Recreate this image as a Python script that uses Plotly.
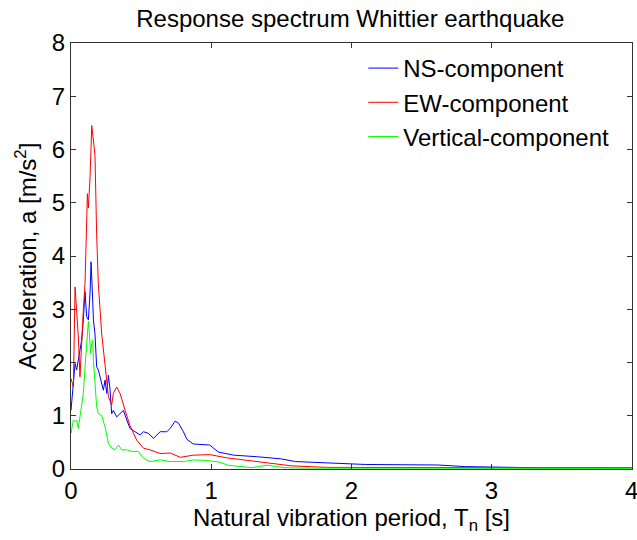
import plotly.graph_objects as go

# NS-component (blue)
ns_period = [0, 0.017, 0.029, 0.04, 0.052, 0.064, 0.076, 0.088, 0.1, 0.112, 0.124, 0.136,
             0.143, 0.152, 0.16, 0.171, 0.183, 0.195, 0.207, 0.231, 0.243, 0.255, 0.267,
             0.279, 0.29, 0.302, 0.326, 0.35, 0.374, 0.398, 0.421, 0.457, 0.493, 0.517,
             0.552, 0.588, 0.636, 0.683, 0.707, 0.743, 0.767, 0.802, 0.826, 0.872, 0.95,
             0.99, 1.05, 1.16, 1.33, 1.5, 1.6, 1.76, 2.1, 2.62, 2.81, 3.17, 3.36, 4.0]
ns_accel = [1.1, 1.73, 1.98, 1.86, 2.04, 2.17, 2.42, 2.8, 3.33, 2.86, 2.8, 3.3,
            3.89, 3.36, 2.8, 2.54, 1.92, 1.86, 1.73, 1.48, 1.67, 1.42, 1.76,
            1.48, 1.04, 1.1, 0.98, 1.04, 1.1, 0.92, 0.76, 0.7, 0.64, 0.7,
            0.67, 0.575, 0.7, 0.7, 0.76, 0.9, 0.86, 0.7, 0.56, 0.47, 0.46,
            0.45, 0.32, 0.26, 0.23, 0.19, 0.14, 0.12, 0.085, 0.075, 0.045, 0.03, 0.02, 0.02]

# EW-component (red)
ew_period = [0, 0.017, 0.029, 0.04, 0.052, 0.064, 0.076, 0.088, 0.1, 0.106, 0.112, 0.117,
             0.124, 0.136, 0.148, 0.16, 0.171, 0.183, 0.195, 0.219, 0.243, 0.267, 0.29,
             0.302, 0.326, 0.35, 0.386, 0.42, 0.469, 0.517, 0.564, 0.636, 0.707, 0.78,
             0.874, 0.99, 1.11, 1.26, 1.43, 1.57, 1.83, 2.45, 2.75, 3.3, 4.0]
ew_accel = [1.7, 1.54, 3.42, 3.04, 2.5, 1.73, 2.5, 2.98, 3.48, 4.3, 4.7, 5.17,
            4.9, 5.48, 6.45, 6.17, 5.9, 4.4, 3.48, 2.54, 1.92, 1.36, 1.2,
            1.42, 1.54, 1.42, 1.1, 0.82, 0.54, 0.39, 0.36, 0.29, 0.3, 0.22,
            0.26, 0.27, 0.21, 0.16, 0.1, 0.06, 0.03, 0.03, 0.02, 0.02, 0.02]

# Vertical-component (green)
vt_period = [0, 0.017, 0.029, 0.04, 0.052, 0.064, 0.076, 0.088, 0.1, 0.112, 0.124, 0.131,
             0.14, 0.148, 0.155, 0.16, 0.171, 0.183, 0.195, 0.219, 0.243, 0.267, 0.29,
             0.314, 0.338, 0.362, 0.398, 0.433, 0.48, 0.517, 0.564, 0.636, 0.707, 0.8,
             0.874, 0.969, 1.06, 1.12, 1.29, 1.4, 1.52, 1.71, 2.5, 4.0]
vt_accel = [0.67, 0.92, 0.89, 0.92, 0.76, 0.98, 1.17, 1.42, 1.92, 2.42, 2.78, 2.54,
            2.17, 2.36, 2.42, 2.04, 1.6, 1.17, 1.04, 1.0, 0.79, 0.48, 0.39,
            0.36, 0.45, 0.36, 0.36, 0.33, 0.33, 0.2, 0.14, 0.17, 0.14, 0.14,
            0.17, 0.16, 0.13, 0.07, 0.025, 0.07, 0.025, 0.015, 0.015, 0.01]

x_ticks = [0, 1, 2, 3, 4]
y_ticks = [0, 1, 2, 3, 4, 5, 6, 7, 8]

FONT = "Liberation Sans, Arial, Helvetica, sans-serif"

fig = go.Figure()
fig.add_trace(go.Scatter(x=ns_period, y=ns_accel, mode="lines", name="NS-component",
                         line=dict(color="#0000ff", width=1)))
fig.add_trace(go.Scatter(x=ew_period, y=ew_accel, mode="lines", name="EW-component",
                         line=dict(color="#ff0000", width=1)))
fig.add_trace(go.Scatter(x=vt_period, y=vt_accel, mode="lines", name="Vertical-component",
                         line=dict(color="#00ff00", width=1)))

axis_common = dict(
    showgrid=False, zeroline=False, showline=True, linecolor="#333333", linewidth=1,
    mirror="ticks", ticks="inside", ticklen=5, tickcolor="#333333",
    ticklabeloverflow="allow", automargin=False,
    tickfont=dict(family=FONT, size=24, color="black"),
)

fig.update_layout(
    width=637, height=540,
    margin=dict(l=71, r=5, t=43, b=71, autoexpand=False),
    paper_bgcolor="white", plot_bgcolor="white",
    font=dict(family=FONT, size=24, color="black"),
    title=dict(text="Response spectrum Whittier earthquake", x=0.55, xanchor="center",
               y=1 - 19 / 540, yanchor="middle",
               font=dict(family=FONT, size=24, color="black")),
    xaxis=dict(range=[0, 4.002], tickvals=x_ticks, ticktext=[str(v) for v in x_ticks],
               title=dict(text="Natural vibration period, T<sub>n</sub> [s]", standoff=6,
                          font=dict(family=FONT, size=24)),
               **axis_common),
    yaxis=dict(range=[0, 8], tickvals=y_ticks, ticktext=[str(v) for v in y_ticks],
               title=dict(text="Acceleration, a [m/s<sup>2</sup>]", standoff=8,
                          font=dict(family=FONT, size=24)),
               **axis_common),
    legend=dict(x=0.521, y=0.993, xanchor="left", yanchor="top",
                bgcolor="rgba(255,255,255,0)", borderwidth=0,
                font=dict(family=FONT, size=24, color="black"),
                tracegroupgap=0),
    showlegend=True,
)

fig.write_html("out.html")
